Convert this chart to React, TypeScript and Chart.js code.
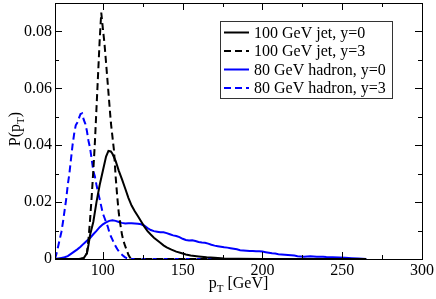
import React, { useEffect, useRef } from 'react';
import { Chart, registerables } from 'chart.js';

Chart.register(...registerables);

// ---- data ----
const seriesLabels = ['100 GeV jet, y=0', '100 GeV jet, y=3', '80 GeV hadron, y=0', '80 GeV hadron, y=3'];
const seriesColors = ['#000000', '#000000', '#0000ff', '#0000ff'];
const seriesDashed = [false, true, false, true];

const jetY0: [number, number][] = [
  [70, 0], [85, 0], [88, 0.0003], [90, 0.002], [91, 0.005], [92, 0.0085], [94, 0.013], [96, 0.02], [98, 0.026],
  [100, 0.031], [102, 0.036], [103.5, 0.038], [105, 0.0378], [106, 0.037], [108, 0.0345], [110, 0.031], [112, 0.028],
  [114, 0.0248], [116, 0.0215], [118, 0.0188], [120, 0.0168], [122, 0.015], [124, 0.0132], [126, 0.0114], [128, 0.0098],
  [130, 0.0086], [132, 0.0075], [134, 0.0066], [136, 0.0057], [138, 0.0048], [140, 0.0041], [143, 0.0033], [146, 0.0026],
  [149, 0.0021], [152, 0.0016], [155, 0.0012], [160, 0.0009], [165, 0.0006], [170, 0.0004], [176, 0.0002], [185, 0.0001],
  [200, 0], [265, 0],
];

const jetY3: [number, number][] = [
  [70, 0], [86, 0], [88, 0.0004], [90, 0.002], [91, 0.007], [92, 0.014], [93, 0.022], [94, 0.031], [95, 0.041],
  [96, 0.053], [97, 0.065], [98, 0.077], [99, 0.0866], [100, 0.081], [101, 0.0758], [102, 0.069], [103, 0.062],
  [104, 0.055], [105, 0.048], [106, 0.043], [107, 0.038], [108, 0.029], [109, 0.022], [110, 0.016], [111, 0.012],
  [112, 0.0085], [113, 0.0062], [114, 0.0045], [115, 0.003], [116, 0.0015], [117, 0.0005], [118, 0], [265, 0],
];

const hadY0: [number, number][] = [
  [70, 0], [72, 0.0002], [74, 0.0004], [76, 0.0006], [78, 0.001], [80, 0.0018], [82, 0.0026], [84, 0.0034],
  [86, 0.0043], [88, 0.0054], [90, 0.0064], [92, 0.0074], [94, 0.0087], [96, 0.0099], [98, 0.0112], [100, 0.0122],
  [102, 0.0129], [104, 0.0134], [106, 0.0136], [108, 0.0134], [110, 0.013], [112, 0.0127], [114, 0.0125], [116, 0.0126],
  [118, 0.0126], [120, 0.0125], [122, 0.0124], [124, 0.0122], [126, 0.0117], [128, 0.0109], [130, 0.0102], [132, 0.0098],
  [134, 0.0096], [136, 0.0094], [138, 0.0094], [140, 0.0091], [142, 0.0087], [144, 0.0083], [146, 0.0081], [148, 0.0077],
  [150, 0.0071], [152, 0.0067], [154, 0.0065], [156, 0.0066], [158, 0.0063], [160, 0.006], [162, 0.0058], [164, 0.0057],
  [166, 0.0054], [168, 0.005], [170, 0.0047], [172, 0.0045], [174, 0.0043], [176, 0.0041], [178, 0.004], [180, 0.0038],
  [182, 0.0036], [184, 0.0034], [186, 0.0031], [188, 0.003], [190, 0.0029], [192, 0.0028], [194, 0.0028], [196, 0.0027],
  [198, 0.0027], [200, 0.0026], [202, 0.0024], [204, 0.0022], [206, 0.002], [208, 0.0019], [210, 0.0017], [212, 0.0016],
  [214, 0.0015], [216, 0.0014], [218, 0.0013], [220, 0.0012], [222, 0.001], [224, 0.0009], [226, 0.0008], [228, 0.0009],
  [230, 0.001], [232, 0.0009], [234, 0.0008], [236, 0.0008], [238, 0.0008], [240, 0.0007], [244, 0.0006], [248, 0.0005],
  [252, 0.0004], [256, 0.0003], [260, 0.0002], [265, 0],
];

const hadY3: [number, number][] = [
  [70, 0], [71, 0.002], [72, 0.0045], [73, 0.007], [74, 0.0095], [75, 0.013], [76, 0.017], [77, 0.021], [78, 0.026],
  [79, 0.03], [80, 0.035], [81, 0.04], [82, 0.044], [83, 0.047], [84, 0.048], [85, 0.0495], [86, 0.051], [87, 0.0512],
  [88, 0.049], [89, 0.0475], [90, 0.045], [91, 0.0415], [92, 0.039], [93, 0.035], [94, 0.031], [95, 0.029], [96, 0.026],
  [97, 0.0235], [98, 0.021], [99, 0.0185], [100, 0.016], [101, 0.0145], [102, 0.013], [103, 0.0115], [104, 0.0095],
  [105, 0.008], [106, 0.0068], [107, 0.0055], [108, 0.0045], [109, 0.0035], [110, 0.0027], [111, 0.002], [112, 0.0015],
  [113, 0.001], [114, 0.0006], [115, 0.0003], [117, 0], [265, 0],
];

const seriesData = [jetY0, jetY3, hadY0, hadY3];

const xLabeledTicks = [100, 150, 200, 250, 300];
const yLabeledTicks = ['0', '0.02', '0.04', '0.06', '0.08'];
const xTitleParts = ['p', 'T', ' [GeV]'];
const yTitleParts = ['P(p', 'T', ')'];

const X_MIN = 70, X_MAX = 300, X_STEP = 25;
const Y_MIN = 0, Y_MAX = 0.09, Y_STEP = 0.01;

const FONT = '"Liberation Serif", "Times New Roman", serif';

function isXMajor(v: number) {
  return xLabeledTicks.some((t) => Math.abs(t - v) < 1e-6);
}
function yLabelFor(v: number) {
  const n = Math.round(v * 100);
  const label = n === 0 ? '0' : (n / 100).toFixed(2);
  return yLabeledTicks.includes(label) ? label : '';
}

function drawSubText(ctx: CanvasRenderingContext2D, parts: string[], x: number, y: number, center: boolean) {
  const big = `16px ${FONT}`;
  const small = `11px ${FONT}`;
  ctx.font = big;
  const w0 = ctx.measureText(parts[0]).width;
  const w2 = ctx.measureText(parts[2]).width;
  ctx.font = small;
  const w1 = ctx.measureText(parts[1]).width;
  const total = w0 + w1 + w2;
  let cx = center ? x - total / 2 : x;
  ctx.textAlign = 'left';
  ctx.textBaseline = 'alphabetic';
  ctx.font = big;
  ctx.fillText(parts[0], cx, y);
  cx += w0;
  ctx.font = small;
  ctx.fillText(parts[1], cx, y + 4);
  cx += w1;
  ctx.font = big;
  ctx.fillText(parts[2], cx, y);
}

const decorPlugin = {
  id: 'decor',
  afterDatasetsDraw(chart: any) {
    const { ctx, chartArea, scales } = chart;
    const { left, right, top, bottom } = chartArea;
    const xs = scales.x, ys = scales.y;
    ctx.save();
    ctx.strokeStyle = '#000';
    ctx.lineWidth = 1;
    ctx.setLineDash([]);
    ctx.strokeRect(Math.round(left) + 0.5, Math.round(top) + 0.5, Math.round(right - left), Math.round(bottom - top));
    ctx.beginPath();
    xs.ticks.forEach((t: any) => {
      const px = Math.round(xs.getPixelForValue(t.value)) + 0.5;
      const len = isXMajor(t.value) ? 7 : 4;
      ctx.moveTo(px, bottom); ctx.lineTo(px, bottom - len);
      ctx.moveTo(px, top); ctx.lineTo(px, top + len);
    });
    ys.ticks.forEach((t: any) => {
      const py = Math.round(ys.getPixelForValue(t.value)) + 0.5;
      const len = yLabelFor(t.value) ? 7 : 4;
      ctx.moveTo(left, py); ctx.lineTo(left + len, py);
      ctx.moveTo(right, py); ctx.lineTo(right - len, py);
    });
    ctx.stroke();

    // axis titles
    ctx.fillStyle = '#000';
    drawSubText(ctx, xTitleParts, (left + right) / 2, 288, true);
    ctx.save();
    ctx.translate(20, (top + bottom) / 2 - 2);
    ctx.rotate(-Math.PI / 2);
    drawSubText(ctx, yTitleParts, 0, 0, true);
    ctx.restore();

    // legend
    const bx = 220.5, by = 21.5, bw = 172, bh = 77;
    ctx.fillStyle = '#fff';
    ctx.fillRect(bx, by, bw, bh);
    ctx.strokeStyle = '#333';
    ctx.strokeRect(bx, by, bw, bh);
    const rowY = [32.5, 51, 69.5, 88];
    chart.data.datasets.forEach((ds: any, i: number) => {
      const ry = rowY[i];
      ctx.strokeStyle = ds.borderColor;
      ctx.lineWidth = 2;
      ctx.setLineDash(ds.borderDash || []);
      ctx.beginPath();
      ctx.moveTo(224, ry);
      ctx.lineTo(249, ry);
      ctx.stroke();
      ctx.setLineDash([]);
      ctx.fillStyle = '#000';
      ctx.font = `16px ${FONT}`;
      ctx.textAlign = 'left';
      ctx.textBaseline = 'middle';
      ctx.fillText(ds.label, 254, ry + 1);
    });
    ctx.restore();
  },
};

export default function App() {
  const ref = useRef<HTMLCanvasElement | null>(null);
  useEffect(() => {
    if (!ref.current) return;
    const chart = new Chart(ref.current, {
      type: 'scatter',
      data: {
        datasets: seriesData.map((d, i) => ({
          label: seriesLabels[i],
          data: d.map(([x, y]) => ({ x, y })),
          showLine: true,
          borderColor: seriesColors[i],
          backgroundColor: seriesColors[i],
          borderWidth: 2,
          borderDash: seriesDashed[i] ? [7, 4] : [],
          pointRadius: 0,
          pointHoverRadius: 0,
          tension: 0,
          fill: false,
        })),
      },
      options: {
        animation: false,
        responsive: true,
        maintainAspectRatio: false,
        events: [],
        layout: { autoPadding: false, padding: { left: 0, right: 14, top: 3, bottom: 0 } },
        plugins: { legend: { display: false }, tooltip: { enabled: false }, title: { display: false } },
        scales: {
          x: {
            type: 'linear',
            min: X_MIN,
            max: X_MAX,
            grid: { display: false, drawTicks: false, tickLength: 0 },
            border: { display: false },
            afterBuildTicks: (s: any) => {
              s.ticks = s.ticks.filter((t: any) => Math.abs(t.value / X_STEP - Math.round(t.value / X_STEP)) < 1e-6);
            },
            afterFit: (s: any) => {
              s.height = 40;
              s.paddingLeft = 0; s.paddingRight = 0; s.paddingTop = 0; s.paddingBottom = 0;
            },
            ticks: {
              stepSize: X_STEP,
              maxRotation: 0,
              autoSkip: false,
              padding: 2,
              color: '#000',
              font: { family: FONT, size: 16 },
              callback: (v: any) => (xLabeledTicks.includes(Number(v)) ? String(v) : ''),
            },
          },
          y: {
            type: 'linear',
            min: Y_MIN,
            max: Y_MAX,
            grid: { display: false, drawTicks: false, tickLength: 0 },
            border: { display: false },
            afterFit: (s: any) => {
              s.width = 55;
              s.paddingLeft = 0; s.paddingRight = 0; s.paddingTop = 0; s.paddingBottom = 0;
            },
            ticks: {
              stepSize: Y_STEP,
              autoSkip: false,
              padding: 3,
              color: '#000',
              font: { family: FONT, size: 16 },
              callback: (v: any) => yLabelFor(Number(v)),
            },
          },
        },
      },
      plugins: [decorPlugin],
    });
    return () => chart.destroy();
  }, []);
  return (
    <div style={{ position: 'fixed', left: 0, top: 0, width: 436, height: 299, background: '#fff' }}>
      <canvas ref={ref} />
    </div>
  );
}
